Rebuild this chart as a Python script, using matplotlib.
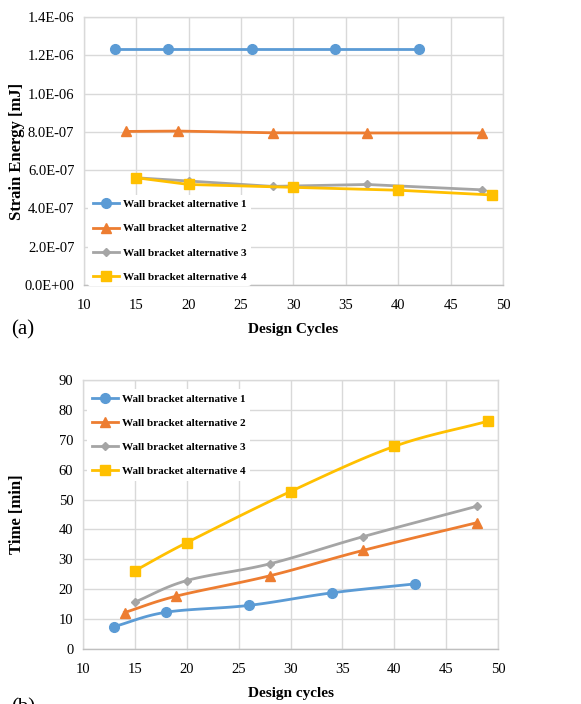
import numpy as np
import matplotlib
matplotlib.use("Agg")
import matplotlib.pyplot as plt
from matplotlib.ticker import FuncFormatter
from matplotlib.lines import Line2D

plt.rcParams['font.family'] = ['Liberation Serif', 'DejaVu Serif']

labels = ["Wall bracket alternative 1", "Wall bracket alternative 2",
          "Wall bracket alternative 3", "Wall bracket alternative 4"]
colors = ["#5B9BD5", "#ED7D31", "#A5A5A5", "#FFC000"]
markers = ["o", "^", "D", "s"]
msizes = [7, 7, 4, 7]

x1 = [13, 18, 26, 34, 42]
x2 = [14, 19, 28, 37, 48]
x3 = [15, 20, 28, 37, 48]
x4 = [15, 20, 30, 40, 49]

energy1 = [1.235e-6, 1.235e-6, 1.235e-6, 1.235e-6, 1.235e-6]
energy2 = [8.02e-7, 8.04e-7, 7.95e-7, 7.94e-7, 7.94e-7]
energy3 = [5.60e-7, 5.43e-7, 5.15e-7, 5.25e-7, 4.97e-7]
energy4 = [5.60e-7, 5.25e-7, 5.10e-7, 4.95e-7, 4.70e-7]

time1 = [7.5, 12.3, 14.6, 18.8, 21.8]
time2 = [12.2, 17.7, 24.5, 33.0, 42.3]
time3 = [15.7, 22.9, 28.5, 37.6, 47.8]
time4 = [26.2, 35.6, 52.7, 67.8, 76.2]

xs = [x1, x2, x3, x4]
energies = [energy1, energy2, energy3, energy4]
times = [time1, time2, time3, time4]


def catmull_rom(x, y, n=30):
    x = np.asarray(x, float); y = np.asarray(y, float)
    px = np.concatenate([[2 * x[0] - x[1]], x, [2 * x[-1] - x[-2]]])
    py = np.concatenate([[2 * y[0] - y[1]], y, [2 * y[-1] - y[-2]]])
    ox, oy = [], []
    t = np.linspace(0, 1, n)
    for i in range(1, len(px) - 2):
        p0x, p1x, p2x, p3x = px[i - 1:i + 3]
        p0y, p1y, p2y, p3y = py[i - 1:i + 3]
        t2, t3 = t * t, t * t * t
        bx = 0.5 * (2 * p1x + (-p0x + p2x) * t + (2 * p0x - 5 * p1x + 4 * p2x - p3x) * t2 + (-p0x + 3 * p1x - 3 * p2x + p3x) * t3)
        by = 0.5 * (2 * p1y + (-p0y + p2y) * t + (2 * p0y - 5 * p1y + 4 * p2y - p3y) * t2 + (-p0y + 3 * p1y - 3 * p2y + p3y) * t3)
        ox.extend(bx); oy.extend(by)
    return np.array(ox), np.array(oy)


fig = plt.figure(figsize=(5.81, 7.04), dpi=100)
ax1 = fig.add_axes([0.1446, 0.5952, 0.7211, 0.3807])
ax2 = fig.add_axes([0.1429, 0.0781, 0.7143, 0.3821])

grid_c = "#D9D9D9"

def style(ax):
    ax.set_xlim(10, 50)
    ax.set_xticks(range(10, 51, 5))
    ax.grid(True, color=grid_c, linewidth=1)
    ax.set_axisbelow(True)
    for s in ax.spines.values():
        s.set_color(grid_c)
        s.set_linewidth(1)
    ax.spines['bottom'].set_color("#BFBFBF")
    ax.tick_params(axis='both', length=0, labelsize=10.5)
    ax.tick_params(axis='x', pad=10)
    ax.tick_params(axis='y', pad=7)

leg_kw = dict(prop={'weight': 'bold', 'size': 8}, frameon=True, facecolor='white',
              edgecolor='none', framealpha=1, handlelength=2.4, handletextpad=0.3,
              labelspacing=1.3, borderpad=0.4)

# Top chart
for x, y, c, m, ms, lab in zip(xs, energies, colors, markers, msizes, labels):
    ax1.plot(x, y, color=c, marker=m, markersize=ms, linewidth=2, label=lab)
style(ax1)
ax1.set_ylim(0, 1.4e-6)
ax1.set_yticks(np.arange(0, 1.41e-6, 2e-7))
ax1.yaxis.set_major_formatter(FuncFormatter(lambda v, p: "%.1E" % v))
ax1.set_xlabel("Design Cycles", fontsize=11, fontweight='bold', labelpad=8)
ax1.set_ylabel("Strain Energy [mJ]", fontsize=12, fontweight='bold')
ax1.yaxis.set_label_coords(-0.141, 0.5)
ax1.legend(loc='lower left', bbox_to_anchor=(0.01, -0.005), borderaxespad=0.0, **leg_kw)

# Bottom chart
for x, y, c, m, ms, lab in zip(xs, times, colors, markers, msizes, labels):
    sx, sy = catmull_rom(x, y)
    ax2.plot(sx, sy, color=c, linewidth=2)
    ax2.plot(x, y, linestyle='none', color=c, marker=m, markersize=ms)
style(ax2)
ax2.set_ylim(0, 90)
ax2.set_yticks(range(0, 91, 10))
ax2.set_xlabel("Design cycles", fontsize=11, fontweight='bold', labelpad=8)
ax2.set_ylabel("Time [min]", fontsize=12, fontweight='bold')
ax2.yaxis.set_label_coords(-0.141, 0.5)
handles = [Line2D([], [], color=c, marker=m, markersize=ms, linewidth=2) for c, m, ms in zip(colors, markers, msizes)]
ax2.legend(handles, labels, loc='upper left', bbox_to_anchor=(0.01, 0.965), borderaxespad=0.0, **leg_kw)

fig.text(0.02, 0.525, "(a)", fontsize=15)
fig.text(0.02, -0.012, "(b)", fontsize=15)

fig.savefig("out.png", dpi=100, facecolor='white')
